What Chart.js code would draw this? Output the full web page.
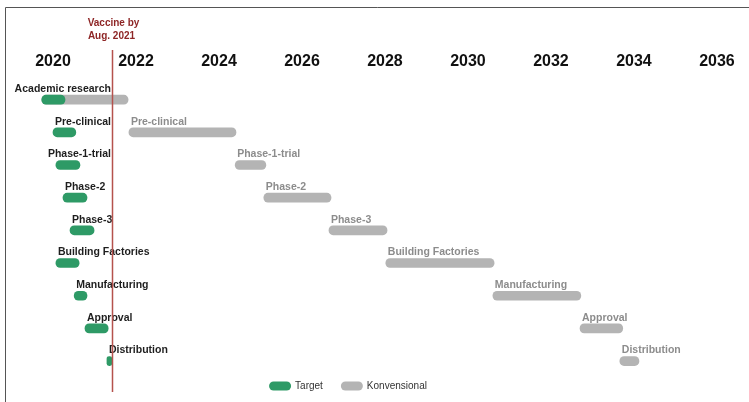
<html lang="en">
<head>
    <meta charset="UTF-8">
    <title>Vaccine timeline</title>
    <script src="https://cdn.jsdelivr.net/npm/chart.js"></script>
    <style>
        body { margin: 0; background: #fff; }
        #wrap { position: relative; width: 749px; height: 402px; }
    </style>
</head>
<body>
<div id="wrap"><canvas id="timelineChart"></canvas></div>

<script>
    // rows, top to bottom
    const tasks = ['Academic research', 'Pre-clinical', 'Phase-1-trial', 'Phase-2', 'Phase-3',
                   'Building Factories', 'Manufacturing', 'Approval', 'Distribution'];

    // Target (fast track) start / end, in years
    const targetStart = [2019.73, 2020.00, 2020.07, 2020.24, 2020.41, 2020.07, 2020.51, 2020.77, 2021.30];
    const targetEnd   = [2020.29, 2020.55, 2020.65, 2020.82, 2020.99, 2020.63, 2020.82, 2021.33, 2021.42];

    // Konvensional start / end
    const konvStart = [2019.73, 2021.83, 2024.39, 2025.08, 2026.65, 2028.02, 2030.60, 2032.70, 2033.66];
    const konvEnd   = [2021.81, 2024.41, 2025.13, 2026.70, 2028.05, 2030.63, 2032.72, 2033.73, 2034.12];

    // text drawn above the gray bars ('' = none)
    const konvLabels = ['', 'Pre-clinical', 'Phase-1-trial', 'Phase-2', 'Phase-3',
                        'Building Factories', 'Manufacturing', 'Approval', 'Distribution'];
    // target labels: 'left' = starts at bar, 'right' = ends at the vaccine line
    const targetLabelAlign = ['right', 'left', 'right', 'left', 'left', 'left', 'left', 'left', 'left'];

    const tickYears = [2020, 2022, 2024, 2026, 2028, 2030, 2032, 2034, 2036];
    const vaccineDate = 2021.42;
    const vaccineLabel = ['Vaccine by', 'Aug. 2021'];

    const FONT = "'Liberation Sans', Arial, sans-serif";
    const GREEN = '#2e9a66';
    const GRAY = '#b4b4b4';

    const decorations = {
        id: 'decorations',
        beforeDraw(chart) {
            const ctx = chart.ctx;
            ctx.save();
            ctx.strokeStyle = '#555';
            ctx.lineWidth = 1;
            ctx.beginPath();
            ctx.moveTo(5.5, 402);
            ctx.lineTo(5.5, 7.5);
            ctx.lineTo(749, 7.5);
            ctx.stroke();
            ctx.restore();
        },
        afterDatasetsDraw(chart) {
            const ctx = chart.ctx;
            const x = chart.scales.x;
            const y = chart.scales.y;
            ctx.save();
            ctx.textBaseline = 'middle';
            ctx.font = 'bold 10.5px ' + FONT;
            tasks.forEach((t, i) => {
                const cy = y.getPixelForValue(i) - 10.5;
                // target label
                ctx.fillStyle = '#1e1e1e';
                if (targetLabelAlign[i] === 'right') {
                    ctx.textAlign = 'right';
                    ctx.fillText(t, x.getPixelForValue(vaccineDate) - 1, cy);
                } else {
                    ctx.textAlign = 'left';
                    ctx.fillText(t, x.getPixelForValue(targetStart[i]) + 2, cy);
                }
                // konvensional label
                if (konvLabels[i]) {
                    ctx.fillStyle = '#8c8c8c';
                    ctx.textAlign = 'left';
                    ctx.fillText(konvLabels[i], x.getPixelForValue(konvStart[i]) + 2, cy);
                }
            });

            // vaccine line
            const vx = Math.round(x.getPixelForValue(vaccineDate)) + 0.5;
            ctx.strokeStyle = '#b5524d';
            ctx.lineWidth = 1.5;
            ctx.beginPath();
            ctx.moveTo(vx, 50);
            ctx.lineTo(vx, 392);
            ctx.stroke();
            ctx.fillStyle = '#8e2626';
            ctx.font = 'bold 10px ' + FONT;
            ctx.textAlign = 'center';
            ctx.fillText(vaccineLabel[0], vx + 1, 23);
            ctx.fillText(vaccineLabel[1], vx - 1, 36);

            // legend
            ctx.font = '10px ' + FONT;
            const items = chart.data.datasets.map(d => ({ label: d.label, color: d.backgroundColor }));
            const widths = items.map(it => 26 + ctx.measureText(it.label).width);
            const total = widths.reduce((a, b) => a + b, 0) + 18 * (items.length - 1);
            let lx = 348 - total / 2;
            const ly = 386;
            items.forEach((it, k) => {
                ctx.fillStyle = it.color;
                ctx.beginPath();
                ctx.roundRect(lx, ly - 4.5, 22, 9, 4.5);
                ctx.fill();
                ctx.fillStyle = '#333';
                ctx.textAlign = 'left';
                ctx.fillText(it.label, lx + 26, ly);
                lx += widths[k] + 18;
            });
            ctx.restore();
        }
    };

    new Chart(document.getElementById('timelineChart'), {
        type: 'bar',
        data: {
            labels: tasks,
            datasets: [{
                label: 'Target',
                data: tasks.map((t, i) => [targetStart[i], targetEnd[i]]),
                backgroundColor: GREEN
            }, {
                label: 'Konvensional',
                data: tasks.map((t, i) => [konvStart[i], konvEnd[i]]),
                backgroundColor: GRAY
            }]
        },
        options: {
            indexAxis: 'y',
            responsive: true,
            maintainAspectRatio: false,
            animation: false,
            layout: { padding: { left: 11.5, right: 3, top: 39.3, bottom: 24.6 } },
            datasets: {
                bar: { grouped: false, barThickness: 9, borderRadius: 5, borderSkipped: false }
            },
            scales: {
                x: {
                    type: 'linear',
                    position: 'top',
                    min: 2019,
                    max: 2036.7,
                    afterBuildTicks: axis => { axis.ticks = tickYears.map(v => ({ value: v })); },
                    grid: { display: false, drawTicks: false },
                    border: { display: false },
                    ticks: {
                        padding: 12.4,
                        color: '#111',
                        font: { family: FONT, size: 16, weight: 'bold' },
                        callback: v => String(v)
                    }
                },
                y: { display: false }
            },
            plugins: {
                legend: { display: false },
                tooltip: { enabled: false }
            }
        },
        plugins: [decorations]
    });
</script>
</body>
</html>
